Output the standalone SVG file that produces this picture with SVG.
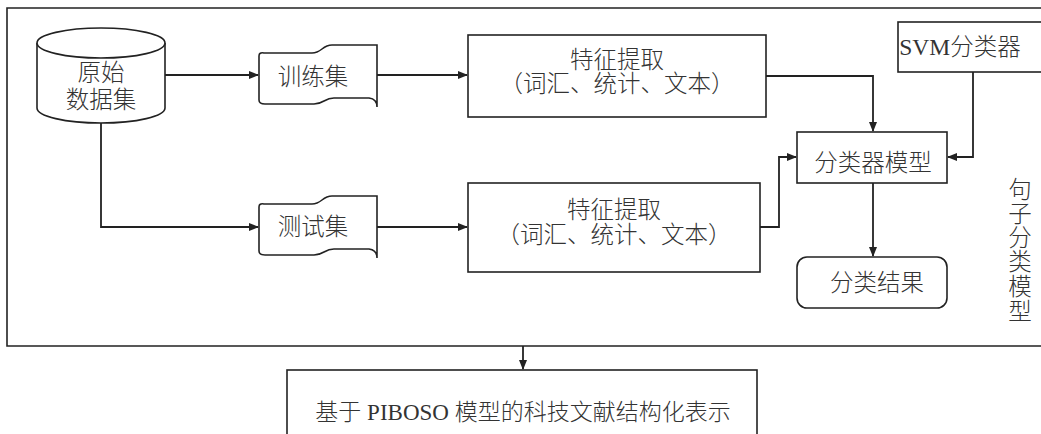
<svg xmlns="http://www.w3.org/2000/svg" width="1041" height="434" viewBox="0 0 1041 434">
<defs>
<marker id="ah" markerWidth="10" markerHeight="8" refX="9" refY="4" orient="auto" markerUnits="userSpaceOnUse">
<path d="M0,0 L10,4 L0,8 Z" fill="#222"/>
</marker>
<style>
.s{fill:#fff;stroke:#222;stroke-width:1.6}
.c{fill:none;stroke:#222;stroke-width:1.8}
.t{font-family:"Liberation Serif","Noto Sans CJK SC",serif;font-size:23.5px;font-weight:300;fill:#333;text-anchor:middle;dominant-baseline:central}
</style>
</defs>
<rect width="1041" height="434" fill="#fff"/>
<g id="frame"><path d="M1045,8 L7,8 L7,346 L1045,346" fill="none" stroke="#222" stroke-width="1.6"/></g>
<g id="connectors">
<path class="c" d="M165,75 L258,75" marker-end="url(#ah)"/>
<path class="c" d="M101,123 L101,227 L258,227" marker-end="url(#ah)"/>
<path class="c" d="M377,75 L467,75" marker-end="url(#ah)"/>
<path class="c" d="M377,227 L467,227" marker-end="url(#ah)"/>
<path class="c" d="M766,76 L873,76 L873,131" marker-end="url(#ah)"/>
<path class="c" d="M760,227 L779,227 L779,157 L796,157" marker-end="url(#ah)"/>
<path class="c" d="M973,72 L973,157 L948,157" marker-end="url(#ah)"/>
<path class="c" d="M873,183 L873,256" marker-end="url(#ah)"/>
<path class="c" d="M523,346 L523,369" marker-end="url(#ah)"/>
</g>
<g id="raw">
<path class="s" d="M37,43 L37,108 A64,15 0 0 0 165,108 L165,43"/>
<ellipse class="s" cx="101" cy="43" rx="64" ry="15"/>
<text class="t" x="101" y="73">原始</text>
<text class="t" x="101" y="100">数据集</text>
</g>
<g id="train">
<path class="s" d="M259,100 L259,56 Q259,52 264,53 L312,53 C322,53 322,45 332,45 L377,45 L377,107 Q377,99 369,98 L334,98 C324,98 324,104 314,104 L265,104 Q259,104 259,100 Z"/>
<text class="t" x="313" y="77">训练集</text>
</g>
<g id="test">
<path class="s" transform="translate(0,151)" d="M259,100 L259,56 Q259,52 264,53 L312,53 C322,53 322,45 332,45 L377,45 L377,107 Q377,99 369,98 L334,98 C324,98 324,104 314,104 L265,104 Q259,104 259,100 Z"/>
<text class="t" x="313" y="227">测试集</text>
</g>
<g id="feat1">
<rect class="s" x="468" y="35" width="298" height="82"/>
<text class="t" x="617" y="60">特征提取</text>
<text class="t" x="617" y="84">（词汇、统计、文本）</text>
</g>
<g id="feat2">
<rect class="s" x="468" y="183" width="292" height="89"/>
<text class="t" x="614" y="210">特征提取</text>
<text class="t" x="614" y="235">（词汇、统计、文本）</text>
</g>
<g id="svm">
<rect class="s" x="898" y="22" width="150" height="50"/>
<text class="t" x="960" y="47">SVM分类器</text>
</g>
<g id="model">
<rect class="s" x="797" y="132" width="150" height="51"/>
<text class="t" x="873" y="163">分类器模型</text>
</g>
<g id="result">
<rect class="s" x="797" y="257" width="150" height="51" rx="10"/>
<text class="t" x="877" y="283">分类结果</text>
</g>
<g id="label">
<text class="t" x="1020" y="190">句</text>
<text class="t" x="1020" y="214">子</text>
<text class="t" x="1020" y="238">分</text>
<text class="t" x="1020" y="262">类</text>
<text class="t" x="1020" y="287">模</text>
<text class="t" x="1020" y="312">型</text>
</g>
<g id="output">
<rect class="s" x="287" y="370" width="470" height="80"/>
<text class="t" x="523" y="412" style="font-size:23px">基于 PIBOSO 模型的科技文献结构化表示</text>
</g>
</svg>
